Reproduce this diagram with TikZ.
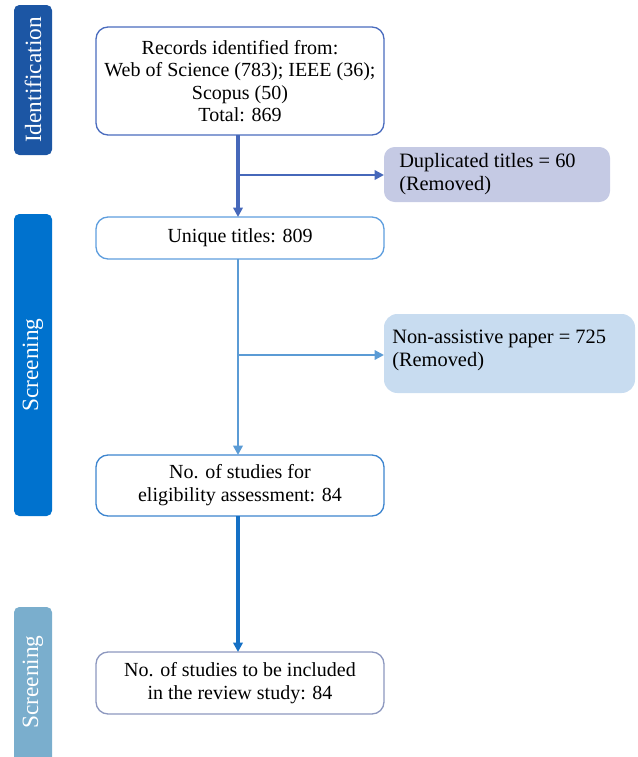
\documentclass[tikz,border=0pt]{standalone}
\usepackage{fontspec}
\setmainfont{Liberation Serif}
\usetikzlibrary{arrows.meta}
\definecolor{identc}{RGB}{28,86,164}
\definecolor{screenc}{RGB}{0,114,206}
\definecolor{thirdc}{RGB}{122,174,205}
\definecolor{boxa}{RGB}{74,108,190}
\definecolor{boxb}{RGB}{94,158,222}
\definecolor{boxc}{RGB}{61,133,207}
\definecolor{boxd}{RGB}{141,152,191}
\definecolor{fillA}{RGB}{197,202,228}
\definecolor{fillB}{RGB}{200,220,240}
\definecolor{lineA}{RGB}{70,104,186}
\definecolor{lineB}{RGB}{91,155,213}
\definecolor{lineC}{RGB}{21,112,197}
\tikzset{
  bartext/.style={text=white, rotate=90, font=\fontsize{17.5}{20}\selectfont},
  mainbox/.style={draw, line width=1pt, rounded corners=9pt, fill=white},
  txt/.style={align=center, font=\fontsize{15}{16.8}\selectfont},
  ltxt/.style={align=left, anchor=north west, font=\fontsize{15.3}{17.2}\selectfont, inner sep=0pt},
  arr/.style={-{Triangle[length=7pt,width=7pt]}}
}
\begin{document}
\begin{tikzpicture}[x=0.75pt,y=-0.75pt]
\useasboundingbox (0,0) rectangle (638,757);
% phase bars
\fill[identc, rounded corners=4pt] (14,5) rectangle (52,155);
\node[bartext] (bid) at (33,80) {Identification};
\fill[screenc, rounded corners=4pt] (14,214) rectangle (52,516);
\node[bartext] (bsc) at (33,365) {Screening};
\fill[thirdc, rounded corners=4pt] (14,607) rectangle (52,770);
\node[bartext] (bin) at (33,682) {Screening};
% boxes
\draw[mainbox, draw=boxa] (96,27) rectangle (384,135);
\node[txt] (b1) at (240,81) {Records identified from:\\Web of Science (783); IEEE (36);\\Scopus (50)\\Total: 869};
\coordinate (b1s) at (238,135);
\fill[fillA, rounded corners=8pt] (384,147) rectangle (610,202);
\node[ltxt] (dup) at (399,153) {Duplicated titles = 60\\(Removed)};
\coordinate (dupw) at (384,175);
\draw[mainbox, draw=boxb] (96,217) rectangle (384,259);
\node[txt] (b2) at (240,238) {Unique titles: 809};
\coordinate (b2n) at (238,217);
\coordinate (b2s) at (238,259);
\fill[fillB, rounded corners=10pt] (384,314) rectangle (635,393);
\node[ltxt] (non) at (392,330) {Non-assistive paper = 725\\(Removed)};
\coordinate (nonw) at (384,355);
\draw[mainbox, draw=boxc] (96,455) rectangle (384,516);
\node[txt] (b3) at (240,485) {No. of studies for\\eligibility assessment: 84};
\coordinate (b3n) at (238,455);
\coordinate (b3s) at (238,516);
\draw[mainbox, draw=boxd] (96,652) rectangle (384,714);
\node[txt] (b4) at (240,683) {No. of studies to be included\\in the review study: 84};
\coordinate (b4n) at (238,652);
% connectors
\coordinate (j1) at (238,175);
\coordinate (j2) at (238,355);
\draw[lineA, line width=2.5pt] (b1s) -- (j1);
\draw[lineA, line width=2.5pt, arr] (j1) -- (b2n);
\draw[lineA, line width=1.8pt, arr] (j1) -- (dupw);
\draw[lineB, line width=2pt] (b2s) -- (j2);
\draw[lineB, line width=2pt, arr] (j2) -- (b3n);
\draw[lineB, line width=1.6pt, arr] (j2) -- (nonw);
\draw[lineC, line width=2.5pt, arr] (b3s) -- (b4n);
\end{tikzpicture}
\end{document}
